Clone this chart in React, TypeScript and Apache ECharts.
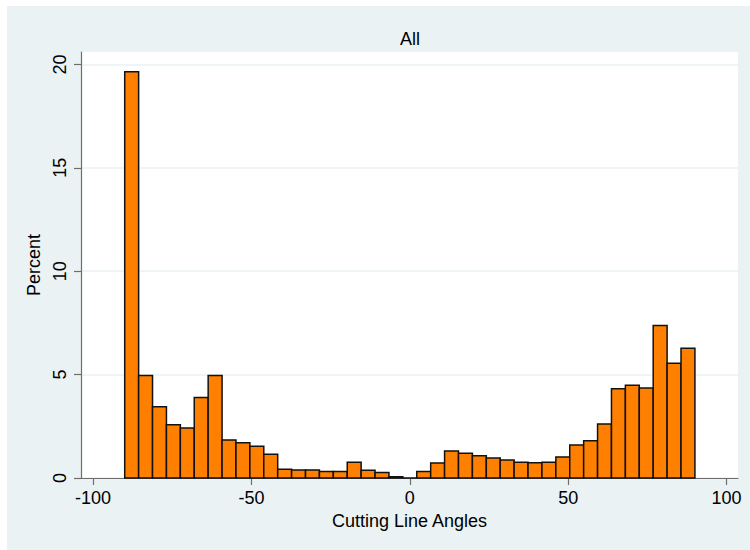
import React, { useEffect, useRef } from "react";
import * as echarts from "echarts";

const binStart = -90;
const binEnd = 90;
const percents = [
  19.64, 4.96, 3.44, 2.58, 2.42, 3.89, 4.96, 1.84, 1.71, 1.53, 1.15, 0.42, 0.39, 0.39,
  0.32, 0.32, 0.76, 0.37, 0.26, 0.06, 0, 0.32, 0.73, 1.31, 1.2, 1.08, 0.97, 0.87, 0.76,
  0.74, 0.76, 1.02, 1.59, 1.8, 2.61, 4.32, 4.48, 4.35, 7.38, 5.55, 6.28,
];
const xTicks = [-100, -50, 0, 50, 100];
const yTicks = [0, 5, 10, 15, 20];
const titleText = "All";
const xTitle = "Cutting Line Angles";
const yTitle = "Percent";

const FONT = "'Liberation Sans', Arial, Helvetica, sans-serif";

export default function App() {
  const ref = useRef<HTMLDivElement>(null);
  useEffect(() => {
    if (!ref.current) return;
    const chart = echarts.init(ref.current, undefined, { renderer: "svg" });
    const w = (binEnd - binStart) / percents.length;
    const data = percents.map((v, i) => [binStart + i * w, binStart + (i + 1) * w, v]);
    chart.setOption({
      animation: false,
      backgroundColor: "#EAF2F3",
      graphic: [
        {
          type: "text",
          x: 403,
          y: 32.5,
          style: {
            text: titleText,
            align: "center",
            verticalAlign: "middle",
            fontSize: 18,
            fontFamily: FONT,
            fill: "#000",
          },
        },
      ],
      grid: {
        left: 74,
        right: 12,
        top: 46,
        bottom: 72,
        show: true,
        backgroundColor: "#ffffff",
        borderWidth: 0,
      },
      xAxis: {
        type: "value",
        min: -103.8,
        max: 103.6,
        name: xTitle,
        nameLocation: "middle",
        nameGap: 31,
        nameTextStyle: { fontSize: 18, fontFamily: FONT, color: "#000" },
        axisLine: { show: true, onZero: false, lineStyle: { color: "#6e6e6e", width: 1.2 } },
        axisTick: { show: true, length: 7, customValues: xTicks, lineStyle: { color: "#6e6e6e", width: 1.2 } },
        axisLabel: {
          customValues: xTicks,
          margin: 11,
          fontSize: 18,
          fontFamily: FONT,
          color: "#000",
        },
        splitLine: { show: false },
      },
      yAxis: {
        type: "value",
        min: 0,
        max: 20.6,
        interval: 5,
        name: yTitle,
        nameLocation: "middle",
        nameGap: 34,
        nameRotate: 90,
        nameTextStyle: { fontSize: 18, fontFamily: FONT, color: "#000" },
        axisLine: { show: true, onZero: false, lineStyle: { color: "#6e6e6e", width: 1.2 } },
        axisTick: { show: true, length: 7, customValues: yTicks, lineStyle: { color: "#6e6e6e", width: 1.2 } },
        axisLabel: {
          customValues: yTicks,
          rotate: 90,
          margin: 12,
          fontSize: 18,
          fontFamily: FONT,
          color: "#000",
        },
        splitLine: { show: true, lineStyle: { color: "#EAF2F3", width: 1.5 } },
      },
      series: [
        {
          type: "custom",
          encode: { x: [0, 1], y: 2 },
          data,
          renderItem: (params: any, api: any) => {
            const p0 = api.coord([api.value(0), 0]);
            const p1 = api.coord([api.value(1), api.value(2)]);
            return {
              type: "rect",
              shape: { x: p0[0], y: p1[1], width: p1[0] - p0[0], height: p0[1] - p1[1] },
              style: { fill: "#FF8000", stroke: "#111111", lineWidth: 1.5 },
            };
          },
        },
      ],
    });
    return () => chart.dispose();
  }, []);
  return (
    <div
      ref={ref}
      style={{ position: "absolute", left: 7, top: 6, width: 743, height: 544 }}
    />
  );
}
